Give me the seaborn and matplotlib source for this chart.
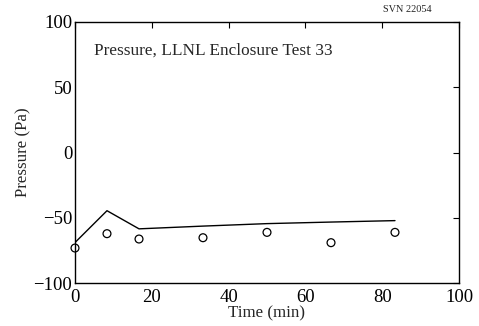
# %% IMPORTS
import matplotlib
matplotlib.use('Agg')
from matplotlib import pyplot as plt
import seaborn as sns
import pandas as pd

# %% DATA
time_min = [0, 8.33, 16.67, 33.33, 50, 66.67, 83.33]
model_pa = [-69.0, -44.6, -58.5, -56.4, -54.5, -53.3, -52.2]
measured_pa = [-73.2, -62.2, -66.3, -65.3, -61.2, -69.1, -61.2]
x_ticks = [0, 20, 40, 60, 80, 100]
y_ticks = [-100, -50, 0, 50, 100]


def main():
    sns.set_style('white')
    plt.rcParams['font.family'] = ['Liberation Serif', 'DejaVu Serif']

    df = pd.DataFrame({'t': time_min, 'model': model_pa, 'meas': measured_pa})

    fig = plt.figure(figsize=(4.79, 3.26), dpi=100)
    ax = fig.add_axes([75 / 479, 1 - 283 / 326, 384 / 479, 261 / 326])

    sns.lineplot(data=df, x='t', y='model', color='black', linewidth=1.0, ax=ax)
    sns.scatterplot(data=df, x='t', y='meas', marker='o', s=32,
                    facecolor='none', edgecolor='black', linewidth=0.9, ax=ax,
                    clip_on=False, zorder=3)

    ax.set_xlim(0, 100)
    ax.set_ylim(-100, 100)
    ax.set_xticks(x_ticks)
    ax.set_yticks(y_ticks)
    ax.set_yticklabels(['\u2212100', '\u221250', '0', '50', '100'])
    ax.tick_params(direction='in', top=True, right=True, length=4, width=0.8,
                   labelsize=13.5, colors='black')
    ax.tick_params(axis='x', pad=4)
    ax.tick_params(axis='y', pad=2)
    for sp in ax.spines.values():
        sp.set_color('black')
        sp.set_linewidth(1.0)

    ax.set_xlabel('Time (min)', fontsize=12.2)
    ax.set_ylabel('Pressure (Pa)', fontsize=12.2)
    ax.xaxis.set_label_coords(0.5, -(313 - 283) / 261, transform=ax.transAxes)
    ax.xaxis.label.set_va('center')
    ax.yaxis.set_label_coords(-(75 - 23) / 384, 0.5, transform=ax.transAxes)
    ax.yaxis.label.set_va('center')
    ax.text(0.05, 0.89, 'Pressure, LLNL Enclosure Test 33', transform=ax.transAxes,
            fontsize=12.4, va='center', ha='left')
    fig.text(407 / 479, 1 - 10 / 326, 'SVN 22054', fontsize=7.4, va='center', ha='center')

    fig.savefig('out.png', dpi=100, facecolor='white')


if __name__ == '__main__':
    main()
